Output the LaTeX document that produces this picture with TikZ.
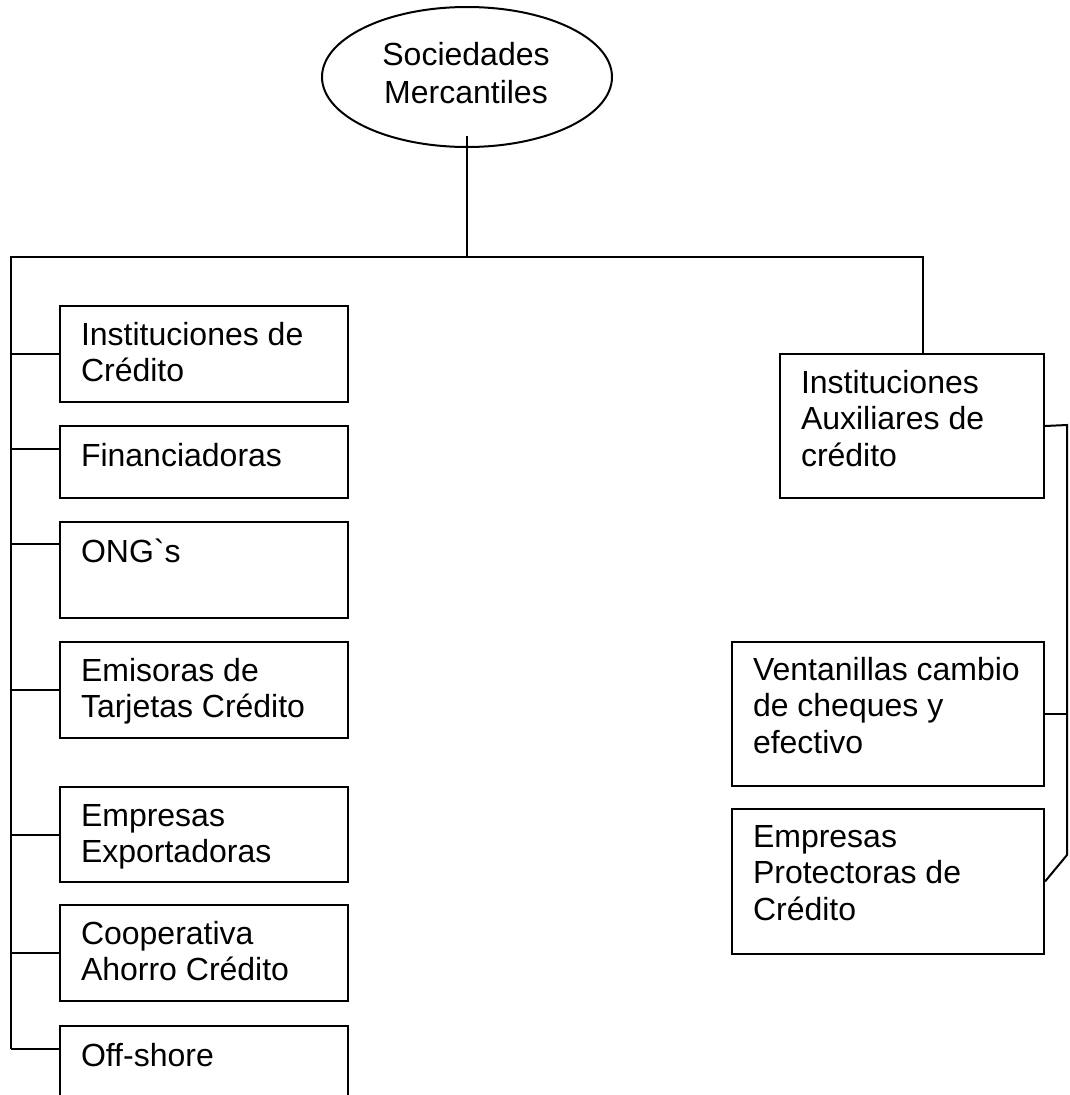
\documentclass[tikz,border=0pt]{standalone}
\usepackage{fontspec}
\setmainfont{Liberation Sans}[Ligatures=TeXOff]
\usetikzlibrary{shapes.geometric,calc}
\begin{document}
\begin{tikzpicture}[x=1pt,y=-1pt,
  line width=2pt,
  box/.style={draw,rectangle,anchor=north west,inner sep=0pt,minimum width=288pt},
  rbox/.style={draw,rectangle,anchor=north west,inner sep=0pt,minimum width=264pt},
  txt/.style={anchor=base west,align=left,inner sep=0pt,font=\fontsize{32}{36.8}\selectfont},
  wire/.style={draw,line width=2pt}]
\useasboundingbox (0,0) rectangle (1070,1095);
\clip (0,0) rectangle (1070,1095);
% root
\node[draw,ellipse,minimum width=290pt,minimum height=140pt,inner sep=0pt] (root) at (467,77) {};
\node[align=center,inner sep=0pt,anchor=base,font=\fontsize{32}{38}\selectfont] (roottxt) at (466,103) {Sociedades\\Mercantiles};
% left boxes
\node[box,minimum height=96pt] (b1) at (59,305) {};
\node[box,minimum height=72pt] (b2) at (59,425) {};
\node[box,minimum height=96pt] (b3) at (59,521) {};
\node[box,minimum height=96pt] (b4) at (59,641) {};
\node[box,minimum height=95pt] (b5) at (59,786) {};
\node[box,minimum height=96pt] (b6) at (59,904) {};
\node[box,minimum height=120pt] (b7) at (59,1025) {};
% base anchor = last line baseline
\node[txt] (t1) at ($(b1.north west)+(21,76.8)$) {Instituciones de\\Crédito};
\node[txt] (t2) at ($(b2.north west)+(21,41)$) {Financiadoras};
\node[txt] (t3) at ($(b3.north west)+(21,41)$) {ONG`s};
\node[txt] (t4) at ($(b4.north west)+(21,76.8)$) {Emisoras de\\Tarjetas Crédito};
\node[txt] (t5) at ($(b5.north west)+(21,76.8)$) {Empresas\\Exportadoras};
\node[txt] (t6) at ($(b6.north west)+(21,76.8)$) {Cooperativa\\Ahorro Crédito};
\node[txt] (t7) at ($(b7.north west)+(21,41)$) {Off-shore};
% right boxes
\node[rbox,minimum height=144pt] (b8) at (779,353) {};
\node[rbox,minimum width=312pt,minimum height=144pt] (b9) at (731,641) {};
\node[rbox,minimum width=312pt,minimum height=145pt] (b10) at (731,808) {};
\node[txt] (t8) at ($(b8.north west)+(21,113.6)$) {Instituciones\\Auxiliares de\\crédito};
\node[txt] (t9) at ($(b9.north west)+(21,112.6)$) {Ventanillas cambio\\de cheques y\\efectivo};
\node[txt] (t10) at ($(b10.north west)+(21,112.6)$) {Empresas\\Protectoras de\\Crédito};
% coordinates
\coordinate (bus) at (467,257);
\coordinate (busL) at (11,257);
\coordinate (busR) at (923,257);
\coordinate (trunkEnd) at (11,1049);
\coordinate (rtrunk) at (1067,425);
\coordinate (rbend) at (1067,855);
% connectors
\draw[wire] ($(root.south)+(0,-12)$) -- (bus);
\draw[wire] (trunkEnd) -- (busL) -- (busR) -- (busR |- b8.north);
\draw[wire] (busL |- b1.west) -- (b1.west);
\draw[wire] (11,449) -- ($(b2.north west)+(0,24)$);
\draw[wire] (11,544) -- ($(b3.north west)+(0,23)$);
\draw[wire] (busL |- b4.west) -- (b4.west);
\draw[wire] (busL |- b5.west) -- (b5.west);
\draw[wire] (busL |- b6.west) -- (b6.west);
\draw[wire] (trunkEnd) -- ($(b7.north west)+(0,24)$);
\draw[wire] (b8.east) -- (rtrunk) -- (rbend) -- (b10.east);
\draw[wire] (b9.east) -- (rtrunk |- b9.east);
\end{tikzpicture}
\end{document}
